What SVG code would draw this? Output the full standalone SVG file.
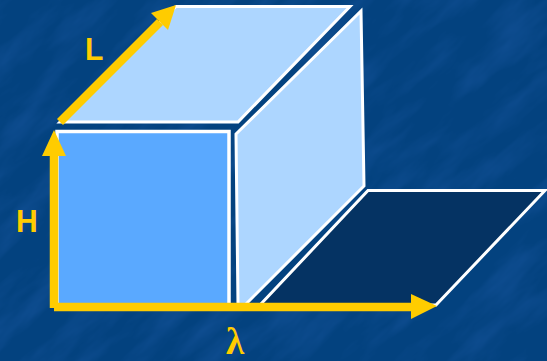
<svg xmlns="http://www.w3.org/2000/svg" width="547" height="361" viewBox="0 0 547 361">
<style>
.face{stroke:#fff;stroke-width:3;stroke-linejoin:miter}
.light{fill:#add6ff}
.front{fill:#5aa9ff;stroke-width:3.500}
.floor{fill:#053363}
.axis{stroke:#fc0;stroke-width:8.500;fill:none}
.head{fill:#fc0}
.lab{fill:#fc0;font-family:"Liberation Sans",Arial,sans-serif;font-weight:700;font-size:32px}
.lam{fill:#fc0;font-family:"Liberation Serif","Times New Roman",serif;font-weight:700;font-size:37px}
</style>
<defs>
<filter id="tex" x="0" y="0" width="100%" height="100%" color-interpolation-filters="sRGB">
<feTurbulence type="fractalNoise" baseFrequency="0.012 0.04" numOctaves="4" seed="11"/>
<feColorMatrix type="matrix" values="0 0 0 0 0.12  0 0 0 0 0.36  0 0 0 0 0.66  0.9 0 0 0 -0.38"/>
</filter>
</defs>
<g id="background">
<rect width="547" height="361" fill="#03427f"/>
<rect x="-300" y="-300" width="1150" height="1000" filter="url(#tex)" transform="rotate(-42 273 180)"/>
</g>
<g id="top-face"><polygon class="face light" points="60,122 176,6.500 350,6.500 238,122"/></g>
<g id="right-face"><polygon class="face light" points="236,134 361,11 364,186 245,305 238,305"/></g>
<g id="front-face"><rect class="face front" x="57" y="131.500" width="172" height="174"/></g>
<g id="floor"><polygon class="face floor" points="368,190.500 545,190.500 436,305 260,305"/></g>
<g id="connectors">
<path class="axis" d="M54 308V152"/>
<polygon class="head" points="54,130 42,156 66,156"/>
<path class="axis" d="M60 122L160 22"/>
<polygon class="head" points="176,5 151,13 168,30"/>
<path class="axis" d="M54 307H411"/>
<polygon class="head" points="437,306 411,294 411,319"/>
</g>
<g id="labels">
<text class="lab" transform="translate(85 60) scale(.94 1)">L</text>
<text class="lab" transform="translate(16 232) scale(.94 1)">H</text>
<text class="lam" x="226" y="354">λ</text>
</g>
</svg>
